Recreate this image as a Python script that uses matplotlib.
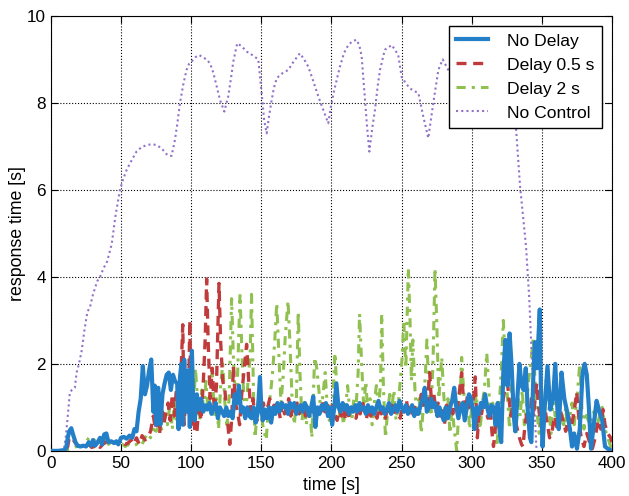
import matplotlib
matplotlib.use("Agg")
import matplotlib.pyplot as plt

plt.rcParams['font.family'] = ['Liberation Sans', 'DejaVu Sans']
plt.rcParams['font.size'] = 12

# No Delay
t_nd = [0, 5, 10, 11, 12, 13, 14.5, 16, 17.5, 19, 21, 23, 25, 27, 28.5, 30, 31.5, 33, 35, 36.5,
        38, 39.5, 41, 43, 45, 46.5, 48, 50, 52, 54, 56, 58, 59.5, 61, 62.5, 64, 65.5, 67, 68.5, 70,
        71.5, 73, 74, 75, 76.5, 78, 79.5, 81, 82.5, 84, 85.5, 87, 88.5, 90, 91, 92, 93, 94, 95, 96,
        97, 98, 99, 100.5, 101.5, 102.5, 104, 105.5, 107, 108.5, 110, 111.5, 113, 114.5, 116, 117.5, 119, 120.5, 122, 123.5,
        125, 126.5, 128, 129.5, 131, 132.5, 134, 135.5, 137, 138.5, 140, 141.5, 143, 144.5, 146, 147.5, 149, 150,
        151, 152.5, 154, 155.5, 157, 158.5, 160, 161.5, 163, 164.5, 166, 167.5, 169, 170.5, 172, 173.5, 175, 176.5,
        178, 179.5, 181, 182.5, 184, 185.5, 187, 188.5, 190, 191.5, 193, 194.5, 196, 197.5, 199, 200.5, 202, 203.5,
        205, 206.5, 208, 209.5, 211, 212.5, 214, 215.5, 217, 218.5, 220, 221.5, 223, 224.5, 226, 227.5, 229, 230.5,
        232, 233.5, 235, 236.5, 238, 239.5, 241, 242.5, 244, 245.5, 247, 248.5, 250, 251.5, 253, 254.5, 256, 257.5,
        259, 260.5, 262, 263.5, 265, 266.5, 268, 269.5, 271, 272.5, 274, 275.5, 277, 278.5, 280, 281.5, 283, 284.5,
        286, 287.5, 289, 290.5, 292, 293.5, 295, 296.5, 298, 299.5, 301, 302, 303.5, 305, 306.5, 308, 309.5, 311,
        312.5, 314, 315.5, 317, 318.5, 320, 321, 322.5, 324, 325.5, 327, 328.5, 330, 331, 332.5, 334, 335.5, 337,
        338.5, 340, 341.5, 342.5, 344, 345, 346.5, 348.5, 349.5, 350.5, 352, 354, 356, 358, 359.5, 361, 362, 364,
        366, 368, 370, 371.5, 373, 375, 377, 379, 380.5, 382, 383.5, 385, 387, 389, 391, 393, 395, 397, 400]
y_nd = [0, 0, 0.02, 0.1, 0.3, 0.45, 0.52, 0.35, 0.2, 0.12, 0.1, 0.12, 0.1, 0.2, 0.12, 0.25, 0.12, 0.18, 0.3, 0.15,
        0.38, 0.4, 0.2, 0.22, 0.18, 0.22, 0.15, 0.3, 0.32, 0.28, 0.35, 0.3, 0.5, 0.45, 0.9, 1.2, 1.95, 1.3, 1.5, 1.85,
        2.1, 0.9, 1.5, 0.6, 1.45, 0.6, 1.3, 1.55, 1.75, 1.8, 1.4, 1.75, 1.6, 1.55, 0.5, 1.7, 2.0, 0.6, 2.1, 1.3,
        0.9, 1.85, 0.55, 2.3, 1.0, 0.7, 1.3, 0.95, 1.2, 0.9, 1.05, 0.95, 1.1, 0.85, 1.0, 1.1, 0.75, 1.0, 0.9, 0.8,
        1.0, 0.8, 0.9, 0.75, 1.3, 1.1, 1.5, 0.9, 1.0, 0.75, 1.0, 0.8, 0.75, 1.0, 0.65, 0.9, 1.7, 1.0,
        0.7, 0.95, 0.75, 1.0, 0.65, 1.0, 0.85, 1.1, 0.9, 1.1, 1.0, 1.05, 0.85, 1.1, 1.0, 1.1, 0.85, 1.0,
        1.05, 0.9, 1.1, 1.0, 0.8, 1.0, 1.25, 0.55, 1.0, 0.85, 1.05, 0.95, 1.1, 0.8, 1.0, 0.6, 1.0, 1.55,
        1.0, 0.9, 1.1, 0.95, 1.05, 0.85, 1.0, 0.9, 1.05, 0.9, 1.1, 0.95, 1.0, 0.85, 1.05, 0.9, 1.0, 0.85,
        1.0, 1.15, 0.95, 1.0, 0.85, 0.95, 1.1, 0.85, 0.95, 1.05, 0.9, 1.15, 1.0, 0.9, 1.05, 0.85, 0.95, 1.05,
        0.8, 0.95, 0.85, 1.05, 1.2, 1.45, 0.9, 1.0, 1.2, 1.0, 1.1, 0.8, 1.0, 0.85, 0.7, 1.0, 0.75, 1.0,
        1.15, 1.45, 1.0, 0.75, 1.0, 1.1, 0.7, 1.0, 1.3, 1.2, 0.9, 0.5, 1.0, 0.85, 1.1, 1.0, 1.3, 1.0,
        0.8, 1.05, 1.0, 0.6, 1.1, 0.4, 0.2, 1.8, 2.55, 1.5, 2.7, 1.9, 0.8, 0.45, 1.2, 2.0, 1.5, 1.4,
        1.9, 0.9, 0.3, 0.2, 1.8, 2.5, 1.9, 3.25, 1.0, 0.1, 1.0, 1.95, 0.95, 1.2, 2.0, 1.0, 0.5, 1.8,
        1.2, 0.9, 0.5, 0.1, 0.4, 0.05, 0.5, 1.8, 2.0, 1.75, 1.0, 0.05, 0.6, 1.15, 0.9, 0.7, 0.1, 0.05, 0.0]

# Delay 0.5 s
t_d05 = [0, 10, 12, 13, 15, 17, 19, 21, 23, 25, 27, 29, 31, 33, 35, 37, 39, 41, 43, 45, 47, 49, 51, 53, 55,
         57, 59, 61, 63, 65, 67, 69, 71, 73, 74.5, 76, 77.5, 79, 80.5, 82, 83.5, 85, 86.5, 88, 89.5, 91, 92.5,
         94, 95, 96.5, 98, 99, 100, 101, 102.5, 104, 105.5, 107, 108.5, 110, 111, 112, 113.5, 115, 116.5, 118,
         119.8, 121, 122.5, 124, 125.5, 127.5, 129, 130, 131.5, 133, 134.5, 136, 137.5, 139.5, 141, 142.5, 144,
         145.5, 147, 148.5, 150, 151.5, 153, 154.5, 156, 157.5, 159, 160.5, 162, 163.5, 165, 166.5, 168, 169.5,
         171, 172.5, 174, 175.5, 177, 178.5, 180, 181.5, 183, 184.5, 186, 187.5, 189, 190.5, 192, 193.5, 195,
         196.5, 198, 199.5, 201, 202.5, 204, 205.5, 207, 208.5, 210, 211.5, 213, 214.5, 216, 217.5, 219, 220.5,
         222, 223.5, 225, 226.5, 228, 229.5, 231, 232.5, 234, 235.5, 237, 238.5, 240, 241.5, 243, 244.5, 246,
         247.5, 249, 250.5, 252, 253.5, 255, 256.5, 258, 259.5, 261, 262.5, 264, 265.5, 267, 268.5, 270, 271.5,
         273, 274.5, 276, 277.5, 279, 280.5, 282, 283.5, 285, 286.5, 288, 289.5, 291, 292.8, 294, 295.5, 297,
         298.5, 300, 301.5, 302.5, 304, 305.5, 307, 308.5, 310, 311.5, 313, 314.5, 315.5, 317, 318.5, 320, 321.5,
         323, 325, 326.5, 328, 329.5, 331, 332.5, 334, 335.5, 336.5, 338, 339.5, 341, 342.5, 344, 346.3, 348,
         350, 352, 354, 355.5, 357, 359, 361, 363, 365, 367, 369, 371, 373, 374.8, 376.5, 378, 380, 382, 384,
         386, 388, 390, 392, 393.6, 395, 397, 399, 400]
y_d05 = [0, 0, 0.1, 0.3, 0.3, 0.2, 0.12, 0.1, 0.12, 0.1, 0.15, 0.08, 0.1, 0.15, 0.08, 0.15, 0.2, 0.15, 0.22, 0.18, 0.22, 0.15, 0.2, 0.15, 0.18,
         0.25, 0.15, 0.3, 0.15, 0.35, 0.25, 0.3, 0.45, 0.8, 0.5, 0.85, 0.4, 1.05, 0.6, 0.9, 1.1, 0.7, 1.3, 0.8, 1.45, 0.9, 1.6,
         2.9, 0.6, 1.6, 1.0, 3.0, 0.6, 1.2, 0.5, 0.4, 1.1, 0.7, 1.5, 2.6, 3.95, 2.6, 1.2, 1.9, 0.9, 1.5,
         3.85, 2.5, 1.6, 1.4, 0.8, 0.15, 0.8, 1.95, 1.1, 0.9, 0.6, 1.3, 1.8, 2.45, 1.6, 0.9, 1.2,
         0.8, 0.7, 1.0, 0.85, 1.1, 0.75, 1.0, 1.2, 0.8, 1.05, 0.9, 1.0, 0.75, 1.1, 0.85, 1.0, 1.2,
         0.8, 1.0, 0.9, 1.1, 0.85, 1.0, 1.05, 0.8, 1.0, 0.75, 0.9, 1.1, 0.8, 1.0, 0.9, 1.15, 0.8,
         1.0, 1.1, 0.75, 1.05, 0.85, 0.7, 0.95, 0.8, 1.0, 0.7, 0.9, 0.75, 1.0, 0.85, 0.75, 1.0, 0.85,
         1.15, 0.9, 0.75, 1.0, 0.8, 0.95, 0.85, 0.75, 1.0, 0.85, 0.95, 0.75, 1.0, 0.9, 1.05, 0.85, 1.0,
         0.9, 0.75, 1.05, 0.9, 1.15, 0.85, 1.0, 0.75, 1.05, 0.85, 0.95, 1.3, 1.05, 1.3, 1.1, 1.8, 1.0,
         1.3, 0.9, 1.1, 0.8, 1.0, 0.6, 1.05, 0.8, 1.1, 0.85, 1.2, 0.9, 1.3, 1.8, 1.2, 0.9, 1.3,
         1.0, 1.05, 1.25, 1.7, 0.3, 1.0, 0.85, 1.15, 0.95, 0.75, 1.0, 0.4, 0.1, 0.6, 0.9, 0.7, 1.0,
         1.3, 1.75, 1.2, 0.8, 1.1, 0.7, 0.5, 0.3, 0.15, 0.1, 0.6, 0.9, 0.5, 1.2, 0.8, 1.55, 0.9,
         0.5, 1.0, 0.6, 0.3, 0.4, 0.8, 0.5, 0.95, 0.7, 0.45, 0.8, 0.55, 0.9, 1.35, 0.7, 0.3, 0.1, 0.4, 0.2,
         0.05, 0.3, 0.7, 0.5, 0.95, 0.6, 0.4, 0.3, 0.2]

# Delay 2 s
t_d2 = [0, 10, 14, 18, 22, 25, 27, 29, 31, 33, 35, 37, 39, 41, 43, 45, 47, 49, 51, 53, 55, 57, 59, 61, 63,
        65, 67, 69, 71, 73, 75, 77, 79, 81, 83, 85, 86.5, 88, 89.5, 91, 92.5, 94, 95.5, 97, 98.5, 100, 101.5,
        103, 104.5, 106, 107.5, 109, 110.5, 112, 113.5, 115, 116.5, 118, 119.5, 121, 122.5, 124, 125.5, 127,
        128.8, 130, 131.5, 133, 134.8, 136, 137.5, 139, 140.5, 142, 143, 144.5, 145.5, 147, 148.5, 150, 151.5,
        153.5, 155, 156.5, 158, 159.5, 161, 162.5, 164, 165.5, 167, 169, 170.5, 172, 173.5, 175, 176.3, 177.5,
        179, 180.5, 182, 183.5, 185, 186, 187, 188, 189.5, 191, 192.5, 194, 195.5, 197, 198.5, 200, 201,
        202.5, 204, 205.5, 207, 208.5, 210, 211.5, 213, 214.5, 216, 217.5, 219, 220, 221.5, 223, 224.5, 226,
        227.5, 229, 230.5, 232, 233.5, 235, 235.8, 237, 238.5, 240, 241.5, 243, 244.5, 246, 247.5, 249, 250.5,
        251.5, 253, 254.8, 256, 257, 258, 259.5, 261, 262.5, 264, 265.5, 267, 268, 269.5, 271, 272.5, 273.8,
        275, 276.5, 278.6, 280, 281.5, 283, 284.5, 286, 287.5, 289.3, 290.5, 292, 292.8, 294, 295.5, 297,
        298.5, 300, 301.5, 303, 304.5, 306, 307.5, 309, 310.7, 312, 313.5, 315, 316.5, 318, 319.5, 321,
        322.5, 324, 325.5, 327, 328.5, 330, 331.5, 333, 334.5, 336, 337.5, 339, 340.5, 342, 343.9, 345,
        346.5, 348, 349.5, 351, 353.4, 355, 356.5, 358, 359.5, 361, 362.5, 364, 365.5, 367, 368.5, 370,
        371.5, 373, 375, 377, 378.5, 380, 381.5, 383, 385, 387, 389, 391, 393, 395, 397, 399, 400]
y_d2 = [0, 0, 0.05, 0.1, 0.1, 0.2, 0.3, 0.15, 0.25, 0.12, 0.2, 0.15, 0.25, 0.15, 0.2, 0.15, 0.2, 0.12, 0.15, 0.1, 0.15, 0.1, 0.12, 0.15, 0.2,
        0.15, 0.3, 0.4, 0.3, 0.5, 0.45, 0.6, 0.5, 0.8, 0.6, 1.1, 0.5, 1.2, 0.7, 1.5, 1.1, 1.8, 1.2, 1.7, 0.9, 1.5, 0.8,
        1.9, 1.2, 0.7, 1.4, 0.9, 1.6, 0.9, 1.3, 1.8, 0.8, 1.2, 0.5, 1.5, 2.0, 1.1, 0.6, 1.2,
        3.5, 2.2, 1.0, 1.7, 3.6, 2.4, 1.2, 0.9, 1.6, 2.2, 3.6, 1.2, 0.3, 0.9, 1.4, 0.8, 0.5,
        0.25, 1.0, 1.3, 1.8, 2.5, 3.4, 2.2, 1.1, 1.7, 2.6, 3.45, 2.4, 1.1, 0.6, 1.2, 3.2, 1.8,
        0.7, 1.1, 0.6, 1.0, 0.8, 0.3, 1.2, 2.15, 1.9, 1.4, 0.9, 1.3, 1.8, 1.0, 0.7, 1.0, 1.2,
        2.25, 1.3, 0.8, 1.1, 0.6, 1.0, 1.5, 0.9, 0.7, 1.2, 1.0, 1.8, 3.15, 2.0, 1.0, 1.6, 0.8,
        1.2, 0.6, 1.1, 1.5, 0.9, 1.6, 3.15, 1.5, 0.3, 0.9, 1.3, 1.0, 1.4, 0.7, 1.0, 1.6, 2.2,
        3.0, 1.9, 4.2, 3.0, 1.6, 2.55, 1.4, 0.8, 1.2, 0.4, 1.0, 1.8, 2.55, 1.3, 0.8, 2.2, 4.2,
        3.0, 1.2, 2.15, 1.3, 0.7, 1.2, 0.4, 1.0, 0.5, 0.0, 0.8, 1.5, 2.15, 1.5, 0.8, 1.2,
        0.5, 1.0, 0.6, 1.3, 0.9, 0.5, 1.1, 1.4, 2.25, 1.5, 0.8, 1.1, 0.5, 0.1, 1.0, 1.8,
        3.0, 2.0, 1.2, 0.5, 1.6, 0.9, 0.4, 1.2, 0.8, 1.4, 0.6, 1.0, 1.6, 2.0, 2.6, 1.7,
        0.9, 0.4, 1.2, 0.7, 1.85, 1.0, 0.4, 1.3, 0.8, 1.1, 0.5, 0.9, 0.6, 1.0, 0.4, 0.8,
        1.1, 0.6, 1.2, 2.0, 1.0, 0.5, 0.9, 0.7, 0.6, 0.9, 0.5, 0.8, 1.0, 0.5, 0.3, 0.1, 0.0]

# No Control
t_nc = [0, 9, 10.5, 12, 13.5, 15, 17, 18.3, 20, 21.9, 24, 26, 27.8, 30, 33, 35, 37.5, 40, 43.3, 46, 49.2,
        51.5, 54, 57, 61, 64.5, 68.2, 72, 75.4, 79, 83, 86, 88.4, 90, 92, 94.5, 96.7, 98.5, 100.3, 103, 105.7,
        108, 111, 113.5, 115.7, 118, 120.5, 123.6, 126.4, 128.5, 130, 132.8, 136, 139.5, 143.5, 147.8, 150.2,
        152, 153.8, 155.5, 157.4, 159, 161, 165, 169.3, 173, 177.5, 180.5, 183.5, 187, 190.6, 194, 197.7,
        199.5, 202, 206, 209, 212, 215, 218, 220, 221.5, 223.9, 225.5, 227, 229, 231, 233, 234.6, 238, 243,
        247.6, 250, 253, 256, 262, 265.5, 269, 272.6, 276.2, 279.3, 284.5, 288, 292, 297, 302, 307, 312, 317,
        322, 326, 329, 331.6, 334.4, 338.7, 341, 343, 345, 346.2]
y_nc = [0, 0, 0.3, 0.8, 1.35, 1.4, 1.45, 1.8, 2.0, 2.3, 2.8, 3.2, 3.3, 3.6, 3.9, 4.0, 4.2, 4.35, 4.75, 5.4, 6.0,
        6.25, 6.46, 6.65, 6.88, 6.98, 7.03, 7.05, 7.03, 6.95, 6.8, 6.78, 7.15, 7.5, 8.0, 8.45, 8.76, 8.9, 8.95, 9.05, 9.1,
        9.05, 9.0, 8.9, 8.7, 8.4, 8.07, 7.8, 8.15, 8.6, 8.95, 9.37, 9.3, 9.18, 9.1, 9.0, 8.23,
        7.6, 7.3, 7.7, 8.07, 8.35, 8.57, 8.68, 8.76, 8.95, 9.14, 9.0, 8.83, 8.5, 8.15, 7.85, 7.53,
        7.9, 8.3, 8.83, 9.15, 9.33, 9.42, 9.45, 9.3, 9.07, 8.07, 7.4, 6.88, 7.4, 7.84, 8.4, 8.76, 9.22, 9.33,
        9.1, 8.6, 8.45, 8.33, 8.22, 7.68, 7.19, 8.0, 8.76, 9.0, 8.68, 9.1, 9.4, 9.3, 9.1, 9.35, 9.2, 9.0,
        8.9, 8.6, 8.0, 7.4, 6.1, 4.7, 3.5, 2.0, 0.8, 0.0]

fig = plt.figure(figsize=(6.29, 4.96), dpi=100)
ax = fig.add_axes([0.081, 0.091, 0.892, 0.877])

ax.plot(t_nd, y_nd, color='#2380c8', lw=3.0, label='No Delay', zorder=4)
ax.plot(t_d05, y_d05, color='#c03c3c', lw=2.4, ls=(0, (3, 2)), label='Delay 0.5 s', zorder=3)
ax.plot(t_d2, y_d2, color='#8fc050', lw=2.2, ls=(0, (3, 2, 1, 2)), label='Delay 2 s', zorder=2)
ax.plot(t_nc, y_nc, color='#9272c8', lw=1.5, ls=(0, (1, 1.5)), label='No Control', zorder=2)

ax.set_xlim(0, 400)
ax.set_ylim(0, 10)
ax.set_xticks(range(0, 401, 50))
ax.set_yticks(range(0, 11, 2))
ax.tick_params(direction='in', top=True, right=True, length=5, labelsize=12.3)
ax.grid(True, color='black', ls=':', lw=0.8)
ax.set_xlabel('time [s]', fontsize=12.8, labelpad=4.5)
ax.set_ylabel('response time [s]', fontsize=12.8, labelpad=1)

leg = ax.legend(loc='upper right', fancybox=False, framealpha=1, edgecolor='black',
                handlelength=1.8, handletextpad=1.1, fontsize=12.6, borderaxespad=0.6)
leg.get_frame().set_linewidth(1.0)

fig.savefig('out.png', dpi=100)
